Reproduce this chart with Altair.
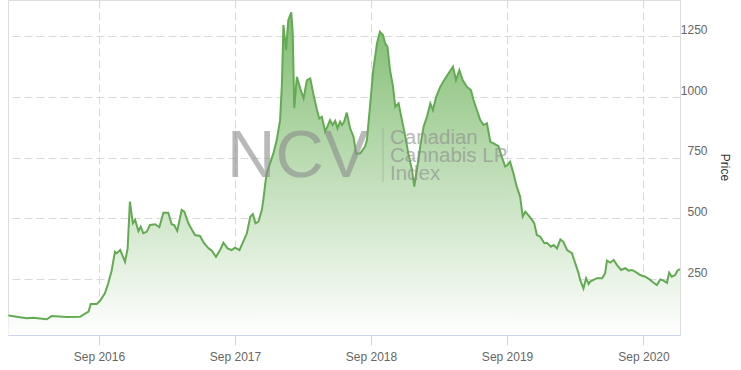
import altair as alt
import pandas as pd

dates = [
    "2016-01-02", "2016-01-24", "2016-02-20", "2016-03-08", "2016-04-14", "2016-04-27",
    "2016-06-07", "2016-07-12", "2016-08-04", "2016-08-10", "2016-08-26", "2016-09-04",
    "2016-09-17", "2016-09-26", "2016-10-05", "2016-10-14", "2016-10-19", "2016-10-28",
    "2016-11-10", "2016-11-17", "2016-11-23", "2016-12-01", "2016-12-07", "2016-12-16",
    "2016-12-22", "2016-12-29", "2017-01-07", "2017-01-16", "2017-01-30", "2017-02-10",
    "2017-02-21", "2017-03-06", "2017-03-15", "2017-03-22", "2017-03-30", "2017-04-11",
    "2017-04-18", "2017-04-29", "2017-05-08", "2017-05-17", "2017-05-30", "2017-06-10",
    "2017-06-22", "2017-07-01", "2017-07-12", "2017-07-23", "2017-08-01", "2017-08-12",
    "2017-08-23", "2017-09-01", "2017-09-13", "2017-09-25", "2017-10-03", "2017-10-12",
    "2017-10-19", "2017-10-26", "2017-11-03", "2017-11-12", "2017-11-16", "2017-11-21",
    "2017-11-25", "2017-12-04", "2017-12-13", "2017-12-22", "2017-12-31", "2018-01-05",
    "2018-01-09", "2018-01-16", "2018-01-22", "2018-01-30", "2018-02-03", "2018-02-07",
    "2018-02-14", "2018-02-23", "2018-03-04", "2018-03-13", "2018-03-22", "2018-03-30",
    "2018-04-09", "2018-04-15", "2018-04-22", "2018-05-01", "2018-05-07", "2018-05-14",
    "2018-05-21", "2018-05-28", "2018-06-03", "2018-06-10", "2018-06-15", "2018-06-21",
    "2018-06-28", "2018-07-07", "2018-07-16", "2018-07-23", "2018-08-03", "2018-08-16",
    "2018-08-21", "2018-08-30", "2018-09-07", "2018-09-17", "2018-09-25", "2018-10-03",
    "2018-10-09", "2018-10-15", "2018-10-22", "2018-10-30", "2018-11-05", "2018-11-14",
    "2018-11-23", "2018-12-02", "2018-12-10", "2018-12-20", "2018-12-26", "2019-01-02",
    "2019-01-11", "2019-01-20", "2019-01-29", "2019-02-07", "2019-02-14", "2019-02-23",
    "2019-03-06", "2019-03-19", "2019-03-28", "2019-04-09", "2019-04-17", "2019-04-26",
    "2019-05-05", "2019-05-16", "2019-05-27", "2019-06-03", "2019-06-12", "2019-06-21",
    "2019-06-30", "2019-07-09", "2019-07-18", "2019-07-27", "2019-08-09", "2019-08-18",
    "2019-08-27", "2019-09-02", "2019-09-09", "2019-09-18", "2019-09-27", "2019-10-06",
    "2019-10-13", "2019-10-20", "2019-10-28", "2019-11-07", "2019-11-13", "2019-11-20",
    "2019-11-29", "2019-12-10", "2019-12-17", "2019-12-28", "2020-01-04", "2020-01-13",
    "2020-01-22", "2020-01-30", "2020-02-09", "2020-02-22", "2020-03-02", "2020-03-11",
    "2020-03-15", "2020-03-24", "2020-03-31", "2020-04-07", "2020-04-11", "2020-04-20",
    "2020-04-29", "2020-05-13", "2020-05-21", "2020-05-26", "2020-06-04", "2020-06-13",
    "2020-06-22", "2020-07-03", "2020-07-14", "2020-07-23", "2020-08-01", "2020-08-14",
    "2020-08-23", "2020-09-06", "2020-09-19", "2020-09-28", "2020-10-07", "2020-10-16",
    "2020-10-25", "2020-11-03", "2020-11-09", "2020-11-16", "2020-11-25", "2020-12-01",
    "2020-12-08",
]

prices = [
    100, 95, 89, 91, 85, 98,
    94, 95, 116, 148, 148, 161,
    192, 233, 285, 363, 357, 370,
    322, 377, 569, 480, 494, 448,
    466, 439, 445, 473, 476, 464,
    524, 524, 476, 473, 449, 535,
    528, 480, 455, 432, 428, 398,
    377, 367, 342, 370, 400, 377,
    370, 380, 370, 411, 439, 507,
    518, 480, 487, 535, 576, 640,
    686, 727, 768, 823, 905, 1056,
    1297, 1194, 1317, 1349, 1262, 954,
    1084, 1036, 995, 1070, 1077, 1015,
    947, 912, 919, 858, 878, 905,
    885, 902, 871, 899, 885, 899,
    936, 871, 837, 768, 768, 796,
    823, 974, 1111, 1221, 1269, 1256,
    1221, 1208, 1111, 1043, 960, 974,
    905, 837, 768, 700, 631, 700,
    796, 878, 919, 974, 947, 1002,
    1043, 1077, 1098, 1125, 1070, 1111,
    1070, 1043, 1029, 988, 947, 905,
    885, 892, 816, 809, 798, 754,
    714, 720, 734, 686, 631, 590,
    508, 528, 514, 494, 480, 432,
    425, 398, 400, 384, 391, 377,
    414, 404, 370, 357, 315, 274,
    247, 212, 254, 230, 240, 247,
    254, 254, 274, 326, 318, 329,
    308, 288, 295, 285, 288, 277,
    267, 260, 247, 235, 226, 249,
    244, 235, 277, 260, 267, 285,
    291,
]

y_ticks = [250, 500, 750, 1000, 1250]
x_tick_dates = ["2016-09-01", "2017-09-01", "2018-09-01", "2019-09-01", "2020-09-01"]
x_range = ["2016-01-01", "2020-12-08"]
y_range = [20, 1400]
watermark_big = ["NCV"]
watermark_lines = ["Canadian", "Cannabis LP", "Index"]

df = pd.DataFrame({"date": dates, "price": prices})


def dt(s):
    return alt.DateTime(year=int(s[:4]), month=int(s[5:7]), date=int(s[8:10]), utc=True)


FONT = "Liberation Sans"
GRID = "#d9d9d9"

x_enc = alt.X(
    "date:T",
    scale=alt.Scale(type="utc", domain=[dt(x_range[0]), dt(x_range[1])]),
    axis=alt.Axis(
        values=[dt(s) for s in x_tick_dates],
        labelExpr="utcFormat(datum.value, '%b %Y')",
        title=None,
        grid=True,
        gridDash=[8, 4],
        gridColor=GRID,
        domainColor="#ccd6eb",
        tickColor="#ccd6eb",
        tickSize=10,
        labelPadding=15,
        labelBaseline="alphabetic",
        labelColor="#666666",
        labelFontSize=12,
        labelFont=FONT,
    ),
)

y_enc = alt.Y(
    "price:Q",
    scale=alt.Scale(domain=y_range, zero=False, nice=False),
    axis=alt.Axis(
        orient="right",
        values=y_ticks,
        format="d",
        grid=True,
        gridDash=[8, 4],
        gridColor=GRID,
        domain=False,
        ticks=False,
        labelAlign="right",
        labelPadding=27,
        labelBaseline="alphabetic",
        labelOffset=-3,
        labelColor="#666666",
        labelFontSize=12,
        labelFont=FONT,
        title="Price",
        titleFont=FONT,
        titleFontSize=12,
        titleFontWeight="normal",
        titleColor="#333333",
        titleAngle=90,
        titleX=44,
        titleY=167,
        titleAlign="center",
        titleBaseline="middle",
    ),
)

base = alt.Chart(df)

area = base.mark_area(
    color=alt.Gradient(
        gradient="linear",
        stops=[
            alt.GradientStop(color="#ffffff", offset=0),
            alt.GradientStop(color="#80bc70", offset=1),
        ],
        x1=1, x2=1, y1=1, y2=0,
    )
).encode(x=x_enc, y=y_enc, y2=alt.datum(y_range[0]))

line = base.mark_line(color="#63ab52", strokeWidth=2).encode(x="date:T", y="price:Q")

wm_big = alt.Chart(pd.DataFrame({"t": watermark_big})).mark_text(
    font=FONT, fontSize=67, color="#8c8c8c", opacity=0.6, align="left", baseline="alphabetic"
).encode(text="t:N", x=alt.value(219), y=alt.value(177))

wm_sep = alt.Chart(pd.DataFrame({"a": [0]})).mark_rule(color="#9a9a9a", opacity=0.5, strokeWidth=1).encode(
    x=alt.value(375), y=alt.value(128), y2=alt.value(182)
)

wm_small = alt.Chart(pd.DataFrame({"a": [0]})).mark_text(
    font=FONT, fontSize=20.5, color="#8c8c8c", opacity=0.6, align="left", baseline="alphabetic", lineHeight=18.3
).encode(text=alt.value(watermark_lines), x=alt.value(382), y=alt.value(143.5))

chart = (
    alt.layer(area, line, wm_big, wm_sep, wm_small)
    .properties(
        width=672,
        height=335,
        autosize=alt.AutoSizeParams(type="none"),
        padding={"left": 8, "top": 0, "right": 61, "bottom": 35},
    )
    .configure_view(strokeWidth=0)
    .configure(font=FONT, background="white")
)

chart.save("out.html", embed_options={"renderer": "svg", "actions": False})
